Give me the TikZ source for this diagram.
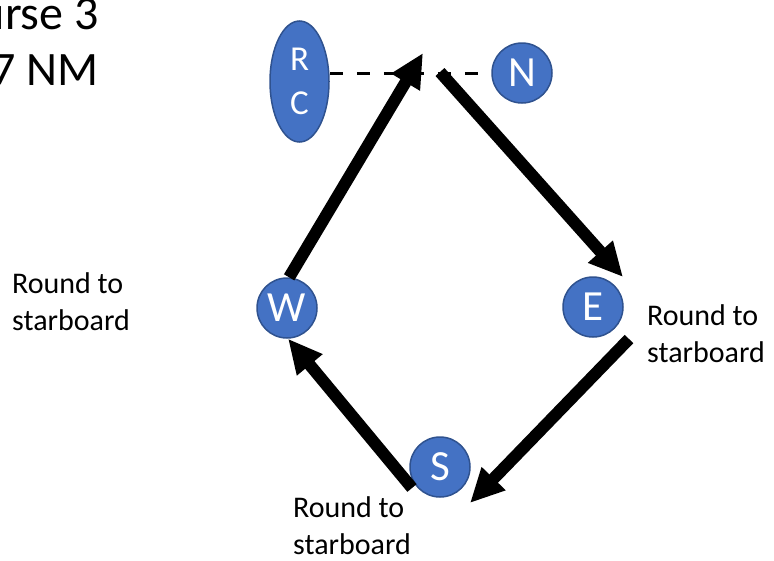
\documentclass[tikz,border=0pt]{standalone}
\usepackage{fontspec}
\setmainfont{Carlito}
\usetikzlibrary{arrows.meta,shapes.geometric}
\definecolor{mkblue}{HTML}{4472C4}
\definecolor{mkedge}{HTML}{2F528F}
\begin{document}
\begin{tikzpicture}[x=1pt,y=-1pt,
  buoy/.style={circle, fill=mkblue, draw=mkedge, line width=1.5pt, minimum size=60pt, inner sep=0pt, text=white, font=\fontsize{43}{48}\selectfont},
  leg/.style={line width=12pt, -{Triangle[length=34pt,width=31pt]}},
  note/.style={align=left, anchor=base west, inner sep=0pt, font=\fontsize{30}{37}\selectfont}]
\useasboundingbox (0,0) rectangle (774,560);

\node[anchor=base east, align=right, inner sep=0pt, font=\fontsize{48}{56}\selectfont] (title) at (99,85) {urse 3\\7 NM};

\node[buoy] (N) at (522,73) {N};
\node[buoy] (E) at (593,307) {E};
\node[buoy] (S) at (440,467) {S};
\node[buoy] (W) at (287,308) {W};
\node[ellipse, fill=mkblue, draw=mkedge, line width=1.5pt, minimum width=59pt, minimum height=121pt, inner sep=0pt, text=white, align=center, font=\fontsize{35}{44}\selectfont] (RC) at (299.5,81.5) {R\\C};

\coordinate (apexL) at (423,53);
\coordinate (apexR) at (440,72);
\coordinate (eTip) at (623,277);
\coordinate (eTail) at (629,339);
\coordinate (sTip) at (470,503);
\coordinate (sTail) at (412,488);

\draw[line width=3pt, dash pattern=on 13pt off 14pt] (RC.east |- N.west) -- (N.west);

\draw[leg] (W.86) -- (apexL);
\draw[leg] (apexR) -- (eTip);
\draw[leg] (eTail) -- (sTip);
\draw[leg] (sTail) -- (W.272);

\node[note] (wnote) at (12,330) {Round to\\starboard};
\node[note] (enote) at (647,362) {Round to\\starboard};
\node[note] (snote) at (293,554) {Round to\\starboard};
\end{tikzpicture}
\end{document}
